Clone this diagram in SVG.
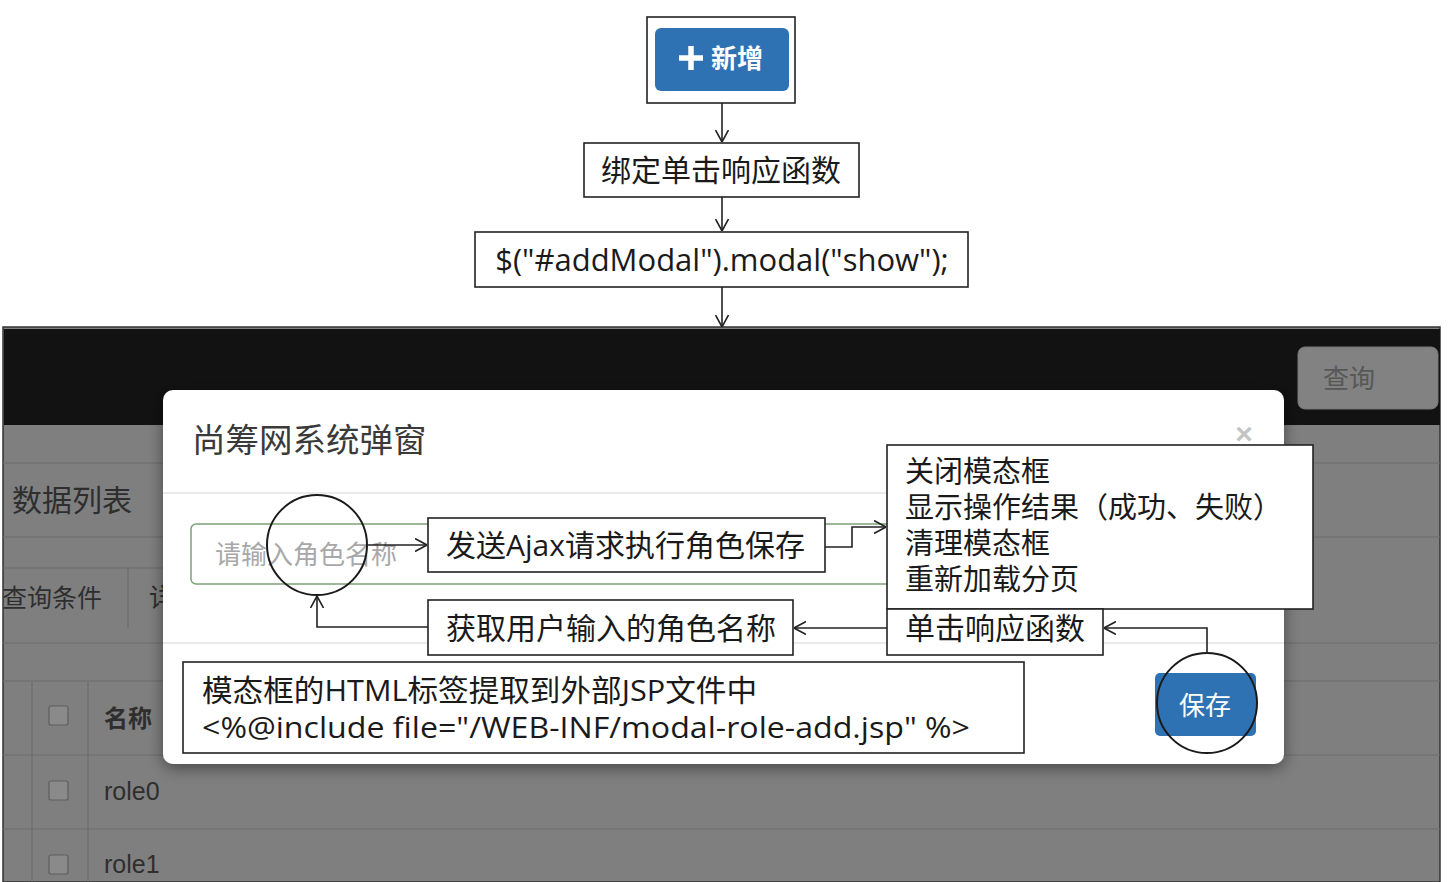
<svg xmlns="http://www.w3.org/2000/svg" width="1450" height="882" viewBox="0 0 1450 882">
<defs>
<marker id="arr" viewBox="0 0 12 14" refX="12" refY="7" markerWidth="12" markerHeight="14" markerUnits="userSpaceOnUse" orient="auto">
<path d="M0,0.5 L12,7 L0,13.5" fill="none" stroke="#222" stroke-width="1.6"/>
</marker>
<filter id="sh" x="-5%" y="-10%" width="110%" height="120%">
<feDropShadow dx="0" dy="4" stdDeviation="8" flood-color="#000" flood-opacity="0.45"/>
</filter>
</defs>
<style>
.box{fill:#fff;stroke:#222;stroke-width:1.6;}
.lbl{font-family:"Open Sans","Noto Sans CJK SC",sans-serif;font-size:30px;fill:#1a1a1a;}
.lbl2{font-family:"Open Sans","Noto Sans CJK SC",sans-serif;font-size:29px;fill:#1a1a1a;}
.bg{font-family:"Noto Sans CJK SC",sans-serif;fill:#2e2e2e;}
.gl{stroke:#6c6c6c;stroke-width:1.2;fill:none;}
.ml{stroke:#e3e3e3;stroke-width:1.5;fill:none;}
.con{fill:none;stroke:#222;stroke-width:1.6;marker-end:url(#arr);}
.circ{fill:none;stroke:#1a1a1a;stroke-width:2;}
.chk{fill:#8a8a8a;stroke:#5e5e5e;stroke-width:1.2;}
</style>
<rect width="1450" height="882" fill="#fff"/>

<!-- screenshot background -->
<g id="screen">
<rect x="3" y="327" width="1437" height="555" fill="#7f7f7f" stroke="#333" stroke-width="1.5"/>
<rect x="4" y="329" width="1436" height="96" fill="#121212"/>
<rect x="1298" y="347" width="140" height="62" rx="7" fill="#828282" stroke="#777"/>
<text x="1323" y="388" class="bg" font-size="26" style="fill:#575757">查询</text>
<path class="gl" d="M3,463 H1440 M3,537 H1440 M3,568 H163 M128,568 V628 M3,643 H1440 M3,681 H1440 M3,755 H1440 M3,829 H1440 M32,681 V882 M88,681 V882"/>
<text x="12" y="511" class="bg" font-size="30">数据列表</text>
<text x="2" y="607" class="bg" font-size="25">查询条件</text>
<text x="149" y="607" class="bg" font-size="26">详</text>
<rect class="chk" x="49" y="706" width="19" height="19" rx="2"/>
<rect class="chk" x="49" y="781" width="19" height="19" rx="2"/>
<rect class="chk" x="49" y="855" width="19" height="19" rx="2"/>
<text x="104" y="727" class="bg" font-size="24" font-weight="bold">名称</text>
<text x="104" y="800" font-family="Liberation Sans, Arial, sans-serif" font-size="25" fill="#2e2e2e">role0</text>
<text x="104" y="873" font-family="Liberation Sans, Arial, sans-serif" font-size="25" fill="#2e2e2e">role1</text>
</g>

<!-- modal -->
<g id="modal">
<rect x="163" y="390" width="1121" height="374" rx="10" fill="#fff" filter="url(#sh)"/>
<text x="192" y="452" font-family="Noto Sans CJK SC, sans-serif" font-size="33.5" fill="#3a3a3a">尚筹网系统弹窗</text>
<text x="1244" y="444" text-anchor="middle" font-family="Liberation Sans, Arial, sans-serif" font-size="30" font-weight="bold" fill="#c4c4c4">×</text>
<path class="ml" d="M163,493 H1284 M163,643 H1284"/>
<rect x="191" y="524" width="720" height="60" rx="5" fill="#fff" stroke="#7ea176" stroke-width="1.5"/>
<text x="215" y="564" font-family="Noto Sans CJK SC, sans-serif" font-size="26" fill="#a8a8a8">请输入角色名称</text>
<rect x="1155" y="673" width="101" height="63" rx="5" fill="#2f72b4"/>
<text x="1205" y="715" text-anchor="middle" font-family="Noto Sans CJK SC, sans-serif" font-size="26" fill="#fff">保存</text>
</g>

<!-- top button -->
<g id="n-add">
<rect x="647" y="17" width="148" height="86" fill="#fff" stroke="#222" stroke-width="1.6"/>
<rect x="655" y="28" width="134" height="63" rx="6" fill="#2f72b4"/>
<path d="M691,46 V70 M679,58 H703" stroke="#fff" stroke-width="5.5"/>
<text x="711" y="68" font-family="Noto Sans CJK SC, sans-serif" font-size="26" font-weight="bold" fill="#fff">新增</text>
</g>

<g id="n-bind">
<rect class="box" x="584" y="143" width="275" height="54"/>
<text class="lbl" x="721" y="181" text-anchor="middle">绑定单击响应函数</text>
</g>

<g id="n-show">
<rect class="box" x="475" y="232" width="493" height="55"/>
<text class="lbl" x="722" y="271" text-anchor="middle" style="font-size:31px">$("#addModal").modal("show");</text>
</g>

<g id="n-circle-input">
<circle class="circ" cx="317" cy="545" r="50"/>
</g>

<g id="n-send">
<rect class="box" x="428" y="518" width="397" height="54"/>
<text class="lbl" x="446" y="556">发送Ajax请求执行角色保存</text>
</g>

<g id="n-result">
<rect class="box" x="887" y="445" width="426" height="164"/>
<text class="lbl2" x="905" y="482">关闭模态框</text>
<text class="lbl2" x="905" y="518">显示操作结果（成功、失败）</text>
<text class="lbl2" x="905" y="554">清理模态框</text>
<text class="lbl2" x="905" y="590">重新加载分页</text>
</g>

<g id="n-click">
<rect class="box" x="887" y="609" width="216" height="46"/>
<text class="lbl" x="905" y="639">单击响应函数</text>
</g>

<g id="n-get">
<rect class="box" x="428" y="600" width="365" height="55"/>
<text class="lbl" x="446" y="639">获取用户输入的角色名称</text>
</g>

<g id="n-jsp">
<rect class="box" x="183" y="662" width="841" height="91"/>
<text class="lbl" x="202" y="701" textLength="555" lengthAdjust="spacingAndGlyphs">模态框的HTML标签提取到外部JSP文件中</text>
<text class="lbl" x="202" y="738" textLength="768" lengthAdjust="spacingAndGlyphs">&lt;%@include file="/WEB-INF/modal-role-add.jsp" %&gt;</text>
</g>

<g id="n-circle-save">
<circle class="circ" cx="1207" cy="703" r="50"/>
</g>

<g id="connectors">
<path class="con" d="M722,103 V142"/>
<path class="con" d="M722,197 V231"/>
<path class="con" d="M722,287 V327"/>
<path class="con" d="M367,545 H427"/>
<path class="con" d="M825,547 H852 V527 H886"/>
<path class="con" d="M1207,653 V628 H1104"/>
<path class="con" d="M887,628 H794"/>
<path class="con" d="M428,627 H317 V596"/>
</g>
</svg>
